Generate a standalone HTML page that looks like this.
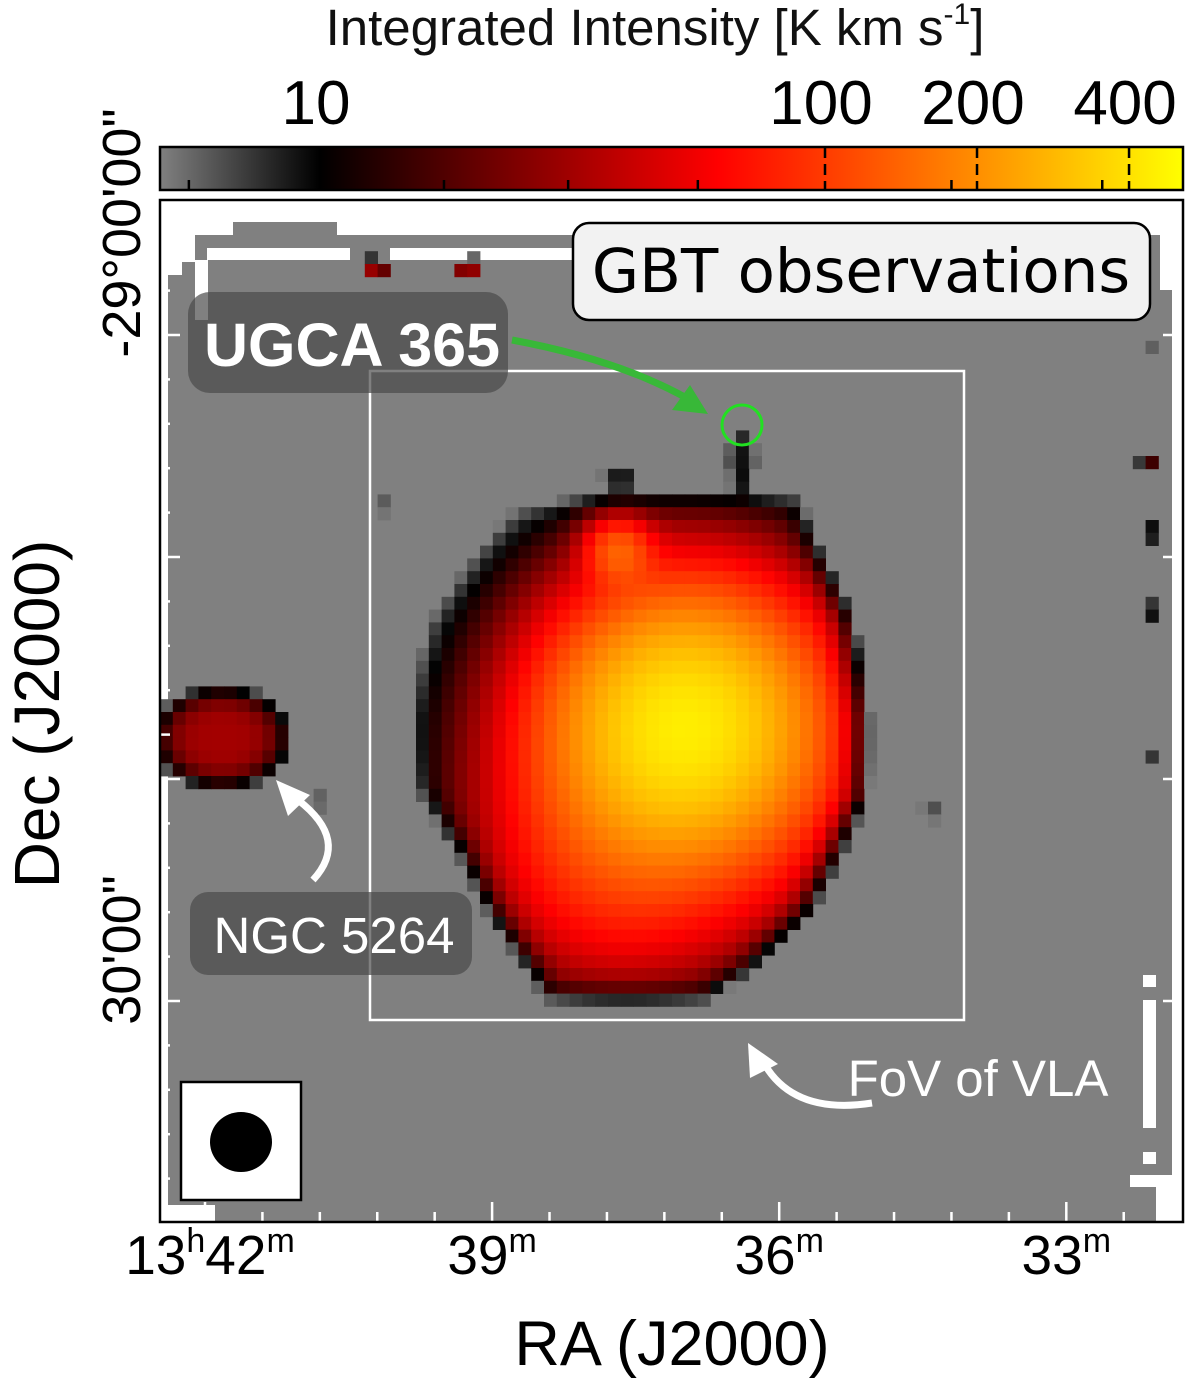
<!DOCTYPE html>
<html><head><meta charset="utf-8"><style>
html,body{margin:0;padding:0;background:#fff;}
svg{display:block;font-family:"Liberation Sans","DejaVu Sans",sans-serif;}
</style></head><body>
<svg id="fig" width="1200" height="1387" viewBox="0 0 1200 1387" xmlns="http://www.w3.org/2000/svg">
<defs>
<linearGradient id="cmap" x1="0" x2="1" y1="0" y2="0">
<stop offset="0" stop-color="#808080"/><stop offset="0.156" stop-color="#000"/><stop offset="0.545" stop-color="#f00"/><stop offset="1" stop-color="#ff0"/>
</linearGradient>
<clipPath id="panelclip"><rect x="160" y="200" width="1023" height="1022"/></clipPath>
</defs>
<text x="655" y="45" font-size="51" text-anchor="middle" fill="#111">Integrated Intensity [K km s<tspan font-size="30" dy="-21">-1</tspan><tspan dy="21">]</tspan></text>
<g id="cbar">
<rect x="160" y="147" width="1023" height="43" fill="url(#cmap)"/>
</g>
<g clip-path="url(#panelclip)">
<rect x="160" y="200" width="1023" height="1022" fill="#808080"/>
<g fill="#fff">
<rect x="160" y="200" width="1023" height="22"/>
<rect x="160" y="222" width="73" height="13"/>
<rect x="337" y="222" width="846" height="13"/>
<rect x="160" y="235" width="35" height="13"/>
<rect x="160" y="248" width="35" height="14"/>
<rect x="207" y="248" width="143" height="12"/>
<rect x="390" y="248" width="182" height="12"/>
<rect x="160" y="262" width="22" height="13"/>
<rect x="195" y="260" width="13" height="60"/>
<rect x="160" y="275" width="8" height="947"/>
<rect x="1160" y="200" width="23" height="90"/>
<rect x="1172" y="290" width="11" height="932"/>
<rect x="1143" y="975" width="13" height="12"/>
<rect x="1143" y="1000" width="13" height="128"/>
<rect x="1143" y="1152" width="13" height="12"/>
<rect x="1130" y="1175" width="53" height="12"/>
<rect x="1156" y="1187" width="27" height="35"/>
<rect x="160" y="1205" width="55" height="17"/>
</g>
<g id="cells"></g>
</g>
<rect x="370" y="371" width="594" height="649" fill="none" stroke="#fff" stroke-width="2.5"/>
<g id="ticks"></g>
<rect x="160" y="200" width="1023" height="1022" fill="none" stroke="#000" stroke-width="2.5"/>

<g>
<rect x="573" y="223" width="577" height="97" rx="16" fill="#f2f2f2" stroke="#000" stroke-width="2.5"/>
<text x="861" y="292" font-family="DejaVu Sans, sans-serif" font-size="61" text-anchor="middle" fill="#000">GBT observations</text>
</g>
<g>
<rect x="188" y="292" width="320" height="101" rx="22" fill="#4a4a4a" fill-opacity="0.7"/>
<text x="352" y="366" font-size="61" font-weight="bold" text-anchor="middle" fill="#fff">UGCA 365</text>
</g>
<g>
<rect x="190" y="892" width="282" height="83" rx="18" fill="#4a4a4a" fill-opacity="0.7"/>
<text x="334" y="953" font-size="51" text-anchor="middle" fill="#fff">NGC 5264</text>
</g>
<text x="978" y="1096" font-size="51" text-anchor="middle" fill="#fff">FoV of VLA</text>

<path d="M512,340 Q620,360 690,400" fill="none" stroke="#38b838" stroke-width="7"/>
<polygon points="708,414 672,410 690,385" fill="#38b838"/>
<circle cx="742" cy="425" r="20" fill="none" stroke="#22e022" stroke-width="3"/>
<path d="M313,880 Q350,840 298,800" fill="none" stroke="#fff" stroke-width="7"/>
<polygon points="276,780 288,816 310,795" fill="#fff"/>
<path d="M872,1103 Q795,1115 765,1065" fill="none" stroke="#fff" stroke-width="7"/>
<polygon points="748,1043 750,1078 778,1064" fill="#fff"/>

<g>
<rect x="181" y="1082" width="120" height="118" fill="#fff" stroke="#000" stroke-width="2.5"/>
<ellipse cx="241" cy="1142" rx="31" ry="30" fill="#000"/>
</g>

<g id="xlabels" font-size="55" fill="#000"></g>
<g id="ylabels" font-size="54" fill="#000"></g>
<text x="672" y="1365" font-size="63" text-anchor="middle">RA (J2000)</text>
<text transform="translate(59,714) rotate(-90)" font-size="64" text-anchor="middle">Dec (J2000)</text>
</svg>
<script>
// colorbar data
const cbMajor = [10, 100, 200, 400];
const cbDashed = [100, 200, 400];
const cbMinor = [5.5, 17.6, 31, 56, 178, 354];
// axis data
const raMajor = [42, 39, 36, 33];
const raMinorStep = 0.6;
const decMajor = [0, 10, 20, 30];
const decMinorStep = 2;
// main galaxy Gaussian components: x, y (page px), amp (K km/s), sigma (px)
const mainX = [685, 700, 600, 618];
const mainY = [725, 760, 870, 550];
const mainAmp = [380, 60, 50, 100];
const mainSig = [80, 140, 80, 21];
// main galaxy outline (outer emission boundary)
const outlineX = [500,810,825,853,865,865,839,811,753,706,541,526,487,454,404,391,404,454];
const outlineY = [483,483,545,617,716,796,856,916,975,1007,1007,975,916,856,796,716,617,545];
// companions / faint features: x, y, amp, rx, ry
const compX = [222, 742, 620, 375, 468, 1147, 1147, 1147, 1147, 1147, 383, 930, 325];
const compY = [738, 458, 478, 268, 268, 350, 462, 532, 612, 752, 505, 810, 800];
const compAmp = [32, 9, 8, 30, 30, 7, 18, 12, 11, 10, 6, 6.5, 6];
const compRx = [62, 16, 22, 12, 12, 8, 8, 8, 8, 8, 10, 12, 12];
const compRy = [46, 36, 12, 10, 10, 14, 14, 16, 18, 12, 14, 18, 22];

const NS = 'http://www.w3.org/2000/svg';
function cx(v){ return 320 + (Math.log10(v) - 1) * 505; }
function colorAt(x){
  x = Math.max(160, Math.min(1183, x));
  let r,g,b;
  if (x < 320){ const t=(x-160)/160; r=g=b=128*(1-t); }
  else if (x < 718){ const t=(x-320)/398; r=255*t; g=0; b=0; }
  else { const t=(x-718)/465; r=255; g=255*t; b=0; }
  return `rgb(${Math.round(r)},${Math.round(g)},${Math.round(b)})`;
}
function mk(tag, attrs, parent){
  const e=document.createElementNS(NS,tag);
  for (const k in attrs) e.setAttribute(k, attrs[k]);
  parent.appendChild(e); return e;
}
function signedDist(px,py){
  let inside=false, md=1e9;
  const n=outlineX.length;
  for (let i=0,j=n-1;i<n;j=i++){
    const xi=outlineX[i], yi=outlineY[i], xj=outlineX[j], yj=outlineY[j];
    if (((yi>py)!==(yj>py)) && (px < (xj-xi)*(py-yi)/(yj-yi)+xi)) inside=!inside;
    const dx=xj-xi, dy=yj-yi;
    let t=((px-xi)*dx+(py-yi)*dy)/(dx*dx+dy*dy);
    t=Math.max(0,Math.min(1,t));
    const ex=xi+t*dx-px, ey=yi+t*dy-py;
    md=Math.min(md,Math.sqrt(ex*ex+ey*ey));
  }
  return inside?md:-md;
}
// colorbar ticks
const cbar=document.getElementById('cbar');
cbDashed.forEach(v=>{
  const l=mk('line',{x1:cx(v),x2:cx(v),y1:147,y2:190,stroke:'#000','stroke-width':2.5,'stroke-dasharray':'11,6'},cbar);
  
  
});
cbMinor.forEach(v=>{
  const l=mk('line',{x1:cx(v),x2:cx(v),y1:180,y2:190,stroke:'#000','stroke-width':2.5},cbar);
  
  
});
mk('rect',{x:160,y:147,width:1023,height:43,fill:'none',stroke:'#000','stroke-width':2.5},cbar);
cbMajor.forEach(v=>{
  const t=mk('text',{x:cx(v)-4,y:124,'font-size':62,'text-anchor':'middle',fill:'#000'},cbar);
  t.textContent=String(v);
  
  
});
// heatmap
const cells=document.getElementById('cells');
const cs=12.8;
for (let j=0;j<80;j++){
  for (let i=0;i<80;i++){
    const px=160+(i+0.5)*cs, py=200+(j+0.5)*cs;
    let v=0;
    const d=signedDist(px,py);
    if (d>-60){
      let s=0;
      for (let k=0;k<mainX.length;k++){
        const dx=px-mainX[k], dy=py-mainY[k];
        s+=mainAmp[k]*Math.exp(-(dx*dx+dy*dy)/(2*mainSig[k]*mainSig[k]));
      }
      v=s/(1+Math.exp(-(d-14)/9));
    }
    for (let k=0;k<compX.length;k++){
      const ux=(px-compX[k])/compRx[k], uy=(py-compY[k])/compRy[k];
      const q=ux*ux+uy*uy;
      v+=compAmp[k]*Math.exp(-q*q);
    }
    if (v>5.0){
      const c=mk('rect',{x:(160+i*cs).toFixed(2),y:(200+j*cs).toFixed(2),width:cs+0.4,height:cs+0.4,fill:colorAt(cx(v))},cells);
      
      
    }
  }
}
// axis ticks
const ticks=document.getElementById('ticks');
function xRA(m){ return 205 + (42-m)*95.7; }
function yDec(d){ return 335 + d*22.2; }
for (let m=42+4*raMinorStep; m>=31.8; m-=raMinorStep){
  const x=xRA(m); if (x<162||x>1181) continue;
  const maj=raMajor.some(M=>Math.abs(M-m)<0.01);
  const L=maj?20:10;
  const a=mk('line',{x1:x,x2:x,y1:1222,y2:1222-L,stroke:'#fff','stroke-width':2.5},ticks);
  
  
}
for (let d=-6; d<=40; d+=decMinorStep){
  const y=yDec(d); if (y<202||y>1220) continue;
  const maj=decMajor.includes(d);
  const L=maj?20:10;
  const a=mk('line',{x1:160,x2:160+L,y1:y,y2:y,stroke:'#fff','stroke-width':2.5},ticks);
  
  
  const b=mk('line',{x1:1183,x2:1183-L,y1:y,y2:y,stroke:'#fff','stroke-width':2.5},ticks);
  
  
}
// tick labels
const xl=document.getElementById('xlabels');
raMajor.forEach((m,idx)=>{
  const t=mk('text',{x:xRA(m)+(idx===0?5:0),y:1274,'text-anchor':'middle'},xl);
  
  
  if (idx===0){
    t.innerHTML='13<tspan font-size="34" dy="-22">h</tspan><tspan dy="22">'+m+'</tspan><tspan font-size="34" dy="-22">m</tspan>';
  } else {
    t.innerHTML=m+'<tspan font-size="34" dy="-22">m</tspan>';
  }
});
const yl=document.getElementById('ylabels');
const t1=mk('text',{transform:'translate(140,233) rotate(-90)','text-anchor':'middle'},yl);
t1.textContent='-29°00\'00"';


const t2=mk('text',{transform:'translate(140,950) rotate(-90)','text-anchor':'middle'},yl);
t2.textContent='30\'00"';


</script>
</body></html>
